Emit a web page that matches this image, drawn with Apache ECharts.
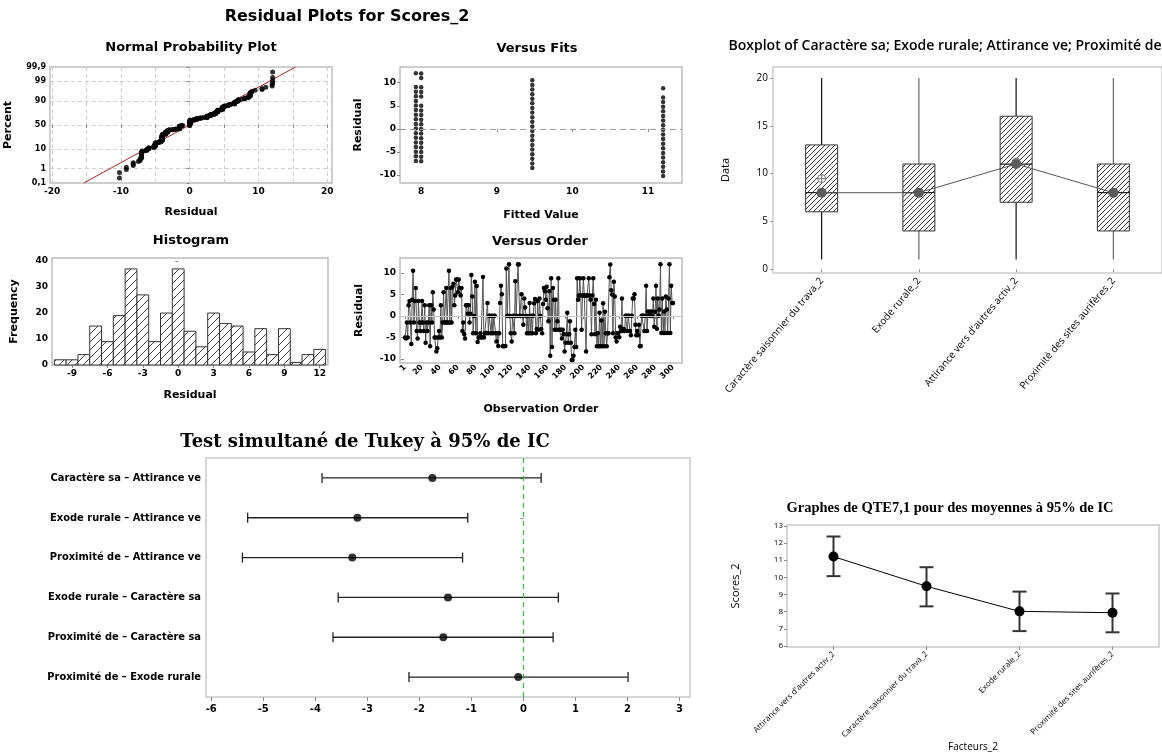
<!DOCTYPE html>
<html><head><meta charset="utf-8">
<script src="https://cdn.jsdelivr.net/npm/echarts@6/dist/echarts.min.js"></script>
<style>html,body{margin:0;padding:0;background:#fff}#c{width:1162px;height:753px}</style>
</head><body><div id="c"></div><script>
// ---------------- DATA ----------------
const residuals = [
 -5.0,-5.2,-1.47,-5.0,2.53,3.53,-1.47,-6.47,3.8,10.53,
 -1.47,3.53,6.53,-3.47,-5.2,3.53,-1.47,-3.47,-1.47,3.53,
 -1.47,-3.47,2.53,-6.2,-1.47,-3.47,-1.47,2.53,-7.0,2.53,
 -1.47,5.53,1.53,-5.0,-5.0,-8.2,-7.47,-5.0,-3.47,-5.0,
 2.53,-5.0,-1.47,5.53,-1.47,-1.47,6.53,-1.47,-1.47,10.53,
 -1.47,6.53,-1.47,6.8,7.53,2.53,4.8,8.53,8.53,5.53,
 8.53,6.53,4.8,6.53,-3.47,-1.47,-4.2,-5.2,2.53,2.53,
 0.53,2.53,-1.47,0.53,9.53,4.53,-4.0,0.0,8.0,-4.0,
 7.0,-6.0,-5.0,-4.93,-4.0,-5.0,-4.93,9.07,-5.0,-4.0,
 -4.0,-3.93,3.07,-4.0,0.07,0.07,-4.0,0.07,-4.0,0.07,
 0.07,-4.0,-5.93,-4.0,-6.93,-4.0,3.07,7.07,5.07,-7.0,
 -6.93,-7.0,-6.93,11.07,0.0,0.07,12.07,0.0,-4.0,-5.93,
 0.0,0.07,-4.0,8.07,0.0,0.0,12.07,12.0,0.07,0.0,
 5.07,0.0,-2.0,4.07,2.0,0.0,-4.0,0.0,-4.0,3.07,
 -4.0,0.07,-4.0,0.07,3.0,4.0,-4.0,-3.0,3.53,-3.2,
 4.07,0.07,-3.0,-4.0,2.8,6.53,5.8,3.8,6.8,1.8,
 -1.2,5.8,-9.2,8.8,-7.2,6.53,3.8,-3.2,3.8,-3.2,
 -1.2,8.8,-3.2,-3.2,-3.2,-5.2,-3.2,-4.2,-8.2,-6.2,
 -4.2,0.8,-6.2,-4.2,-1.2,-6.2,-10.2,-10.2,-9.2,-7.2,
 -3.2,-7.2,8.8,3.8,4.8,8.8,4.8,-3.2,4.8,8.8,
 4.8,4.8,-8.2,4.8,4.8,8.8,4.8,3.8,-4.2,4.8,
 8.8,2.8,-4.2,3.8,-7.0,-4.0,-7.0,0.8,-7.0,-1.0,
 -7.0,3.0,-7.0,1.0,-4.0,-7.0,-4.0,-4.0,9.0,12.0,
 6.0,5.0,-4.0,8.0,4.53,-5.0,-5.93,-4.0,-3.93,-4.93,
 -2.47,-3.47,4.07,-3.47,-3.0,-3.47,0.07,0.07,-3.47,0.07,
 0.07,-3.47,-4.47,0.07,4.07,4.07,5.07,-2.0,-4.47,-3.47,
 -4.47,-2.0,-7.0,-6.93,0.07,0.07,0.07,-3.47,0.07,7.07,
 -3.47,1.07,0.07,1.0,0.0,1.07,0.0,4.07,-2.47,1.0,
 7.07,-2.93,4.07,0.07,1.53,12.07,-3.93,4.07,-3.93,1.07,
 -3.93,4.53,1.53,-3.93,4.07,12.07,-3.93,7.07,3.07,3.07
];
const histCenters = [-10,-9,-8,-7,-6,-5,-4,-3,-2,-1,0,1,2,3,4,5,6,7,8,9,10,11,12];
const histCounts  = [2,2,4,15,9,19,37,27,9,20,37,13,7,20,16,15,5,14,4,14,1,4,6];
const histBinWidth = 1;
const fitLevels = [7.93, 8.0, 9.47, 11.2];
const fitResidG1 = [12.07,9.07,8.07,7.07,6.07,5.07,4.07,3.07,2.07,1.07,0.07,-0.93,-1.93,-2.93,-3.93,-4.93,-5.93,-6.93];
const fitResidG2 = [12,11,9,8,7,5,4,3,2,1,0,-1,-2,-3,-4,-5,-6,-7];
const fitResidG3 = [10.53,9.53,8.53,7.53,6.53,5.53,4.53,3.53,2.53,1.53,0.53,-0.47,-1.47,-2.47,-3.47,-4.47,-5.47,-6.47,-7.47,-8.47];
const fitResidG4 = [8.8,6.8,5.8,4.8,3.8,2.8,1.8,0.8,-0.2,-1.2,-2.2,-3.2,-4.2,-5.2,-6.2,-7.2,-8.2,-9.2,-10.2];
const nppTickPct = [0.1,1,10,50,90,99,99.9];
const nppTickLabels = ['0,1','1','10','50','90','99','99,9'];
const fitLineMean = 0, fitLineSd = 4.98;
const orderTicks = [1,20,40,60,80,100,120,140,160,180,200,220,240,260,280,300];

const boxCats = ['Caractère saisonnier du trava_2','Exode rurale_2',"Attirance vers d'autres activ_2",'Proximité des sites aurifères_2'];
const boxMin = [1,1,1,1];
const boxQ1  = [6,4,7,4];
const boxMed = [8,8,11,8];
const boxQ3  = [13,11,16,11];
const boxMax = [20,20,20,20];
const boxMean = [9.47,8.0,11.2,7.93];

const tukeyLabels = ['Caractère sa – Attirance ve','Exode rurale – Attirance ve','Proximité de – Attirance ve','Exode rurale – Caractère sa','Proximité de – Caractère sa','Proximité de – Exode rurale'];
const tukeyLow  = [-3.87,-5.30,-5.40,-3.56,-3.66,-2.20];
const tukeyMid  = [-1.75,-3.19,-3.29,-1.45,-1.54,-0.10];
const tukeyHigh = [0.34,-1.07,-1.17,0.67,0.57,2.01];

const qteCats = ["Attirance vers d'autres activ_2",'Caractère saisonnier du trava_2','Exode rurale_2','Proximité des sites aurifères_2'];
const qteMean = [11.21,9.48,8.02,7.94];
const qteLow  = [10.07,8.31,6.87,6.80];
const qteHigh = [12.38,10.59,9.17,9.06];

// ---------------- helpers ----------------
function normInv(p){
 const a=[-3.969683028665376e+01,2.209460984245205e+02,-2.759285104469687e+02,1.383577518672690e+02,-3.066479806614716e+01,2.506628277459239e+00];
 const b=[-5.447609879822406e+01,1.615858368580409e+02,-1.556989798598866e+02,6.680131188771972e+01,-1.328068155288572e+01];
 const c=[-7.784894002430293e-03,-3.223964580411365e-01,-2.400758277161838e+00,-2.549671010989637e+00,4.374664141464968e+00,2.938163982698783e+00];
 const d=[7.784695709041462e-03,3.224671290700398e-01,2.445134137142996e+00,3.754408661907416e+00];
 const pl=0.02425, ph=1-pl; let q,r;
 if(p<pl){q=Math.sqrt(-2*Math.log(p));return (((((c[0]*q+c[1])*q+c[2])*q+c[3])*q+c[4])*q+c[5])/((((d[0]*q+d[1])*q+d[2])*q+d[3])*q+1);}
 if(p<=ph){q=p-0.5;r=q*q;return (((((a[0]*r+a[1])*r+a[2])*r+a[3])*r+a[4])*r+a[5])*q/(((((b[0]*r+b[1])*r+b[2])*r+b[3])*r+b[4])*r+1);}
 q=Math.sqrt(-2*Math.log(1-p));return -(((((c[0]*q+c[1])*q+c[2])*q+c[3])*q+c[4])*q+c[5])/((((d[0]*q+d[1])*q+d[2])*q+d[3])*q+1);
}
function makeHatch(size, lw, color){
  const cv=document.createElement('canvas'); cv.width=size; cv.height=size;
  const g=cv.getContext('2d'); g.fillStyle='#fff'; g.fillRect(0,0,size,size);
  g.strokeStyle=color; g.lineWidth=lw; g.beginPath();
  g.moveTo(-1,size+1); g.lineTo(size+1,-1);
  g.moveTo(-1,1); g.lineTo(1,-1);
  g.moveTo(size-1,size+1); g.lineTo(size+1,size-1);
  g.stroke(); return cv;
}
const hatchHist = makeHatch(8, 0.9, '#333');
const hatchBox = makeHatch(5, 0.9, '#222');

const nppZ = nppTickPct.map(p=>normInv(p/100));
const zLo = nppZ[0], zHi = nppZ[nppZ.length-1];
const n = residuals.length;
const nppData = residuals.slice().sort((a,b)=>a-b).map((r,i)=>[r, normInv((i+1-0.3)/(n+0.4))]);
const fitGroups = [fitResidG1,fitResidG2,fitResidG3,fitResidG4];
const vfData = [];
fitGroups.forEach((g,k)=>g.forEach(r=>vfData.push([fitLevels[k], r])));

// ---------------- styles ----------------
const SANS = '"DejaVu Sans", sans-serif';
const frame = {show:true, borderColor:'#bdbdbd', borderWidth:1.5, backgroundColor:'transparent'};
const tickLbl = {color:'#000', fontFamily:SANS, fontWeight:'bold', fontSize:9, margin:4};
const nameSty = {color:'#000', fontFamily:SANS, fontWeight:'bold', fontSize:11};
function vAxis(gi, min, max, ticks, name, gap, extra){
  return Object.assign({
    type:'value', gridIndex:gi, min:min, max:max,
    axisLine:{show:false},
    axisTick:{show:true, length:3, customValues:ticks, lineStyle:{color:'#888'}},
    axisLabel:Object.assign({customValues:ticks}, tickLbl),
    splitLine:{show:false},
    name:name, nameLocation:'middle', nameGap:gap, nameTextStyle:nameSty
  }, extra||{});
}
function title(text, x, y, font){
  return {type:'text', x:x, y:y, silent:true,
    style:{text:text, font:font, fill:'#000', align:'center', verticalAlign:'middle'}};
}

const chart = echarts.init(document.getElementById('c'), null, {renderer:'canvas'});
const option = {
  animation:false,
  backgroundColor:'#fff',
  graphic:[
    title('Residual Plots for Scores_2', 347, 17, 'bold 16px "DejaVu Sans"'),
    title('Normal Probability Plot', 191, 48, 'bold 13px "DejaVu Sans"'),
    title('Versus Fits', 537, 49, 'bold 13px "DejaVu Sans"'),
    title('Histogram', 191, 241, 'bold 13px "DejaVu Sans"'),
    title('Versus Order', 540, 242, 'bold 13px "DejaVu Sans"'),
    title('Boxplot of Caractère sa; Exode rurale; Attirance ve; Proximité de', 945, 46, '600 14px "Open Sans"'),
    title('Test simultané de Tukey à 95% de IC', 365, 442, 'bold 18px "DejaVu Serif"'),
    title('Graphes de QTE7,1 pour des moyennes à 95% de IC', 950, 508, 'bold 14.5px "Liberation Serif"')
  ],
  grid:[
    Object.assign({left:50, top:67, width:282, height:116}, frame),
    Object.assign({left:400, top:67, width:282, height:116}, frame),
    Object.assign({left:52, top:258, width:276, height:107}, frame),
    Object.assign({left:400, top:258, width:282, height:105}, frame),
    Object.assign({left:773, top:67, width:389, height:206}, frame, {borderColor:'#cccccc'}),
    Object.assign({left:206, top:458, width:484, height:239}, frame, {borderColor:'#c8c8c8'}),
    Object.assign({left:787, top:525, width:372, height:123}, frame, {borderColor:'#c8c8c8'})
  ],
  xAxis:[
    vAxis(0, -20.3, 20.7, [-20,-15,-10,-5,0,5,10,15,20], 'Residual', 24, {
      axisLabel:Object.assign({customValues:[-20,-10,0,10,20]}, tickLbl),
      splitLine:{show:true, lineStyle:{color:'#cfcfcf', type:[4,3]}}
    }),
    vAxis(1, 7.72, 11.45, [8,9,10,11], 'Fitted Value', 27),
    vAxis(2, -10.7, 12.7, [-9,-6,-3,0,3,6,9,12], 'Residual', 25),
    vAxis(3, -4.6, 310, orderTicks, 'Observation Order', 41, {
      axisLabel:Object.assign({customValues:orderTicks, rotate:45}, tickLbl, {fontSize:8, margin:3})
    }),
    {type:'category', gridIndex:4, data:boxCats, boundaryGap:true,
      axisLine:{show:false}, axisTick:{show:true, alignWithLabel:true, length:3, lineStyle:{color:'#999'}},
      axisLabel:{interval:0, rotate:50, fontSize:10, color:'#000', fontFamily:'"Open Sans", sans-serif', margin:6},
      splitLine:{show:false}},
    {type:'value', gridIndex:5, min:-6.1, max:3.2,
      axisLine:{show:false},
      axisTick:{show:true, length:4, customValues:[-6,-5,-4,-3,-2,-1,0,1,2,3], lineStyle:{color:'#888'}},
      axisLabel:{customValues:[-6,-5,-4,-3,-2,-1,0,1,2,3], color:'#000', fontFamily:SANS, fontWeight:'bold', fontSize:10, margin:7},
      splitLine:{show:false}},
    {type:'category', gridIndex:6, data:qteCats, boundaryGap:true,
      axisLine:{show:false}, axisTick:{show:true, alignWithLabel:true, length:3, lineStyle:{color:'#888'}},
      axisLabel:{interval:0, rotate:45, fontSize:8, color:'#000', fontFamily:'"Open Sans", sans-serif', margin:6},
      splitLine:{show:false},
      name:'Facteurs_2', nameLocation:'middle', nameGap:92,
      nameTextStyle:{color:'#000', fontFamily:'"Open Sans", sans-serif', fontSize:10}}
  ],
  yAxis:[
    vAxis(0, zLo, zHi, nppZ, 'Percent', 36, {
      axisLabel:Object.assign({customValues:nppZ, formatter:function(v){
        let k=0,b=1e9; nppZ.forEach((z,j)=>{const d=Math.abs(z-v); if(d<b){b=d;k=j;}}); return nppTickLabels[k];}}, tickLbl, {fontSize:8}),
      splitLine:{show:true, lineStyle:{color:'#cfcfcf', type:[4,3]}}
    }),
    vAxis(1, -11.7, 13.4, [-10,-5,0,5,10], 'Residual', 36),
    vAxis(2, 0, 41.2, [0,10,20,30,40], 'Frequency', 32),
    vAxis(3, -10.9, 13.5, [-10,-5,0,5,10], 'Residual', 35),
    {type:'value', gridIndex:4, min:-0.4, max:21.15,
      axisLine:{show:false},
      axisTick:{show:true, length:3, customValues:[0,5,10,15,20], lineStyle:{color:'#999'}},
      axisLabel:{customValues:[0,5,10,15,20], fontSize:10, color:'#000', fontFamily:'"Open Sans", sans-serif', margin:5},
      splitLine:{show:false},
      name:'Data', nameLocation:'middle', nameGap:42,
      nameTextStyle:{color:'#000', fontFamily:'"Open Sans", sans-serif', fontSize:11}},
    {type:'category', gridIndex:5, data:tukeyLabels, inverse:true, boundaryGap:true,
      axisLine:{show:false}, axisTick:{show:true, alignWithLabel:true, length:3, lineStyle:{color:'#888'}},
      axisLabel:{interval:0, color:'#000', fontFamily:'"Liberation Sans Narrow", "DejaVu Sans Condensed", sans-serif', fontWeight:'bold', fontSize:11, margin:5},
      splitLine:{show:false}},
    {type:'value', gridIndex:6, min:5.95, max:13.05,
      axisLine:{show:false},
      axisTick:{show:true, length:3, customValues:[6,7,8,9,10,11,12,13], lineStyle:{color:'#888'}},
      axisLabel:{customValues:[6,7,8,9,10,11,12,13], fontSize:8, color:'#000', fontFamily:'"Open Sans", sans-serif', margin:4},
      splitLine:{show:false},
      name:'Scores_2', nameLocation:'middle', nameGap:46,
      nameTextStyle:{color:'#000', fontFamily:'"Open Sans", sans-serif', fontSize:11}}
  ],
  series:[
    // Normal probability plot
    {type:'line', xAxisIndex:0, yAxisIndex:0, showSymbol:false, silent:true,
      data:[[fitLineMean+fitLineSd*zLo, zLo],[fitLineMean+fitLineSd*zHi, zHi]],
      lineStyle:{color:'#b22222', width:1}, z:3},
    {type:'scatter', xAxisIndex:0, yAxisIndex:0, data:nppData, symbol:'circle', symbolSize:5,
      itemStyle:{color:'#000'}, z:4},
    // Versus fits
    {type:'scatter', xAxisIndex:1, yAxisIndex:1, data:vfData, symbol:'circle', symbolSize:4.5,
      itemStyle:{color:'#000'},
      markLine:{silent:true, symbol:['none','none'], label:{show:false},
        lineStyle:{color:'#9a9a9a', type:[6,4], width:1}, data:[{yAxis:0}]}},
    // Histogram
    {type:'custom', xAxisIndex:2, yAxisIndex:2,
      data:histCenters.map((c,i)=>[c, histCounts[i]]),
      renderItem:function(params, api){
        const c=api.value(0), v=api.value(1);
        const p0=api.coord([c-histBinWidth/2, v]), p1=api.coord([c+histBinWidth/2, 0]);
        return {type:'rect', shape:{x:p0[0], y:p0[1], width:p1[0]-p0[0], height:p1[1]-p0[1]},
          style:{fill:{image:hatchHist, repeat:'repeat'}, stroke:'#333', lineWidth:1}};
      }},
    // Versus order
    {type:'line', xAxisIndex:3, yAxisIndex:3, data:residuals.map((r,i)=>[i+1, r]),
      symbol:'circle', symbolSize:4.5, showSymbol:true, itemStyle:{color:'#000'},
      lineStyle:{color:'#555', width:1},
      markLine:{silent:true, symbol:['none','none'], label:{show:false},
        lineStyle:{color:'#c8c8c8', type:'solid', width:1}, data:[{yAxis:0}]}, z:3},
    // Boxplot boxes
    {type:'custom', xAxisIndex:4, yAxisIndex:4,
      data:boxCats.map((c,i)=>[i, boxMin[i], boxQ1[i], boxMed[i], boxQ3[i], boxMax[i]]),
      renderItem:function(params, api){
        const i=api.value(0);
        const cx=api.coord([i,0])[0], hw=16;
        const y=k=>api.coord([i, api.value(k)])[1];
        const col = (i%2===0) ? '#111' : '#666';
        return {type:'group', children:[
          {type:'line', shape:{x1:cx,y1:y(1),x2:cx,y2:y(2)}, style:{stroke:col, lineWidth:1.2}},
          {type:'line', shape:{x1:cx,y1:y(4),x2:cx,y2:y(5)}, style:{stroke:col, lineWidth:1.2}},
          {type:'rect', shape:{x:cx-hw, y:y(4), width:2*hw, height:y(2)-y(4)},
            style:{fill:{image:hatchBox, repeat:'repeat'}, stroke:'#333', lineWidth:1}},
          {type:'line', shape:{x1:cx-hw,y1:y(3),x2:cx+hw,y2:y(3)}, style:{stroke:'#222', lineWidth:1.2}}
        ]};
      }, z:2},
    // Boxplot mean symbols
    {type:'custom', xAxisIndex:4, yAxisIndex:4,
      data:boxMean.map((m,i)=>[i, m]),
      renderItem:function(params, api){
        const p=api.coord([api.value(0), api.value(1)]), r=4;
        return {type:'group', children:[
          {type:'circle', shape:{cx:p[0], cy:p[1], r:r}, style:{fill:'#fff', stroke:'#777', lineWidth:1}},
          {type:'line', shape:{x1:p[0]-r,y1:p[1],x2:p[0]+r,y2:p[1]}, style:{stroke:'#777', lineWidth:1}},
          {type:'line', shape:{x1:p[0],y1:p[1]-r,x2:p[0],y2:p[1]+r}, style:{stroke:'#777', lineWidth:1}}
        ]};
      }, z:3},
    // Boxplot median connect line
    {type:'line', xAxisIndex:4, yAxisIndex:4, data:boxMed, symbol:'circle', symbolSize:10,
      itemStyle:{color:'#5a5a5a'}, lineStyle:{color:'#555', width:1}, z:4},
    // Tukey intervals
    {type:'custom', yAxisIndex:5, xAxisIndex:5,
      data:tukeyLabels.map((l,i)=>[tukeyLow[i], i, tukeyHigh[i]]),
      encode:{x:[0,2], y:1},
      renderItem:function(params, api){
        const lo=api.coord([api.value(0), api.value(1)]), hi=api.coord([api.value(2), api.value(1)]);
        const st={stroke:'#222', lineWidth:1.3};
        return {type:'group', children:[
          {type:'line', shape:{x1:lo[0],y1:lo[1],x2:hi[0],y2:hi[1]}, style:st},
          {type:'line', shape:{x1:lo[0],y1:lo[1]-5,x2:lo[0],y2:lo[1]+5}, style:st},
          {type:'line', shape:{x1:hi[0],y1:hi[1]-5,x2:hi[0],y2:hi[1]+5}, style:st}
        ]};
      }},
    {type:'scatter', xAxisIndex:5, yAxisIndex:5, data:tukeyMid.map((m,i)=>[m, i]),
      symbol:'circle', symbolSize:8, itemStyle:{color:'#000'}, z:4,
      markLine:{silent:true, symbol:['none','none'], label:{show:false},
        itemStyle:{color:'#2fc02f'},
        lineStyle:{color:'#2fc02f', type:[5,4], width:1.2, opacity:1}, data:[{xAxis:0, lineStyle:{color:'#2fc02f'}}]}},
    // QTE error bars
    {type:'custom', xAxisIndex:6, yAxisIndex:6,
      data:qteCats.map((c,i)=>[i, qteLow[i], qteHigh[i]]),
      renderItem:function(params, api){
        const lo=api.coord([api.value(0), api.value(1)]), hi=api.coord([api.value(0), api.value(2)]);
        const st={stroke:'#333', lineWidth:2};
        return {type:'group', children:[
          {type:'line', shape:{x1:lo[0],y1:lo[1],x2:hi[0],y2:hi[1]}, style:st},
          {type:'line', shape:{x1:lo[0]-7,y1:lo[1],x2:lo[0]+7,y2:lo[1]}, style:st},
          {type:'line', shape:{x1:hi[0]-7,y1:hi[1],x2:hi[0]+7,y2:hi[1]}, style:st}
        ]};
      }},
    {type:'line', xAxisIndex:6, yAxisIndex:6, data:qteMean, symbol:'circle', symbolSize:10,
      itemStyle:{color:'#000'}, lineStyle:{color:'#000', width:1}, z:4}
  ]
};
chart.setOption(option);
</script></body></html>
